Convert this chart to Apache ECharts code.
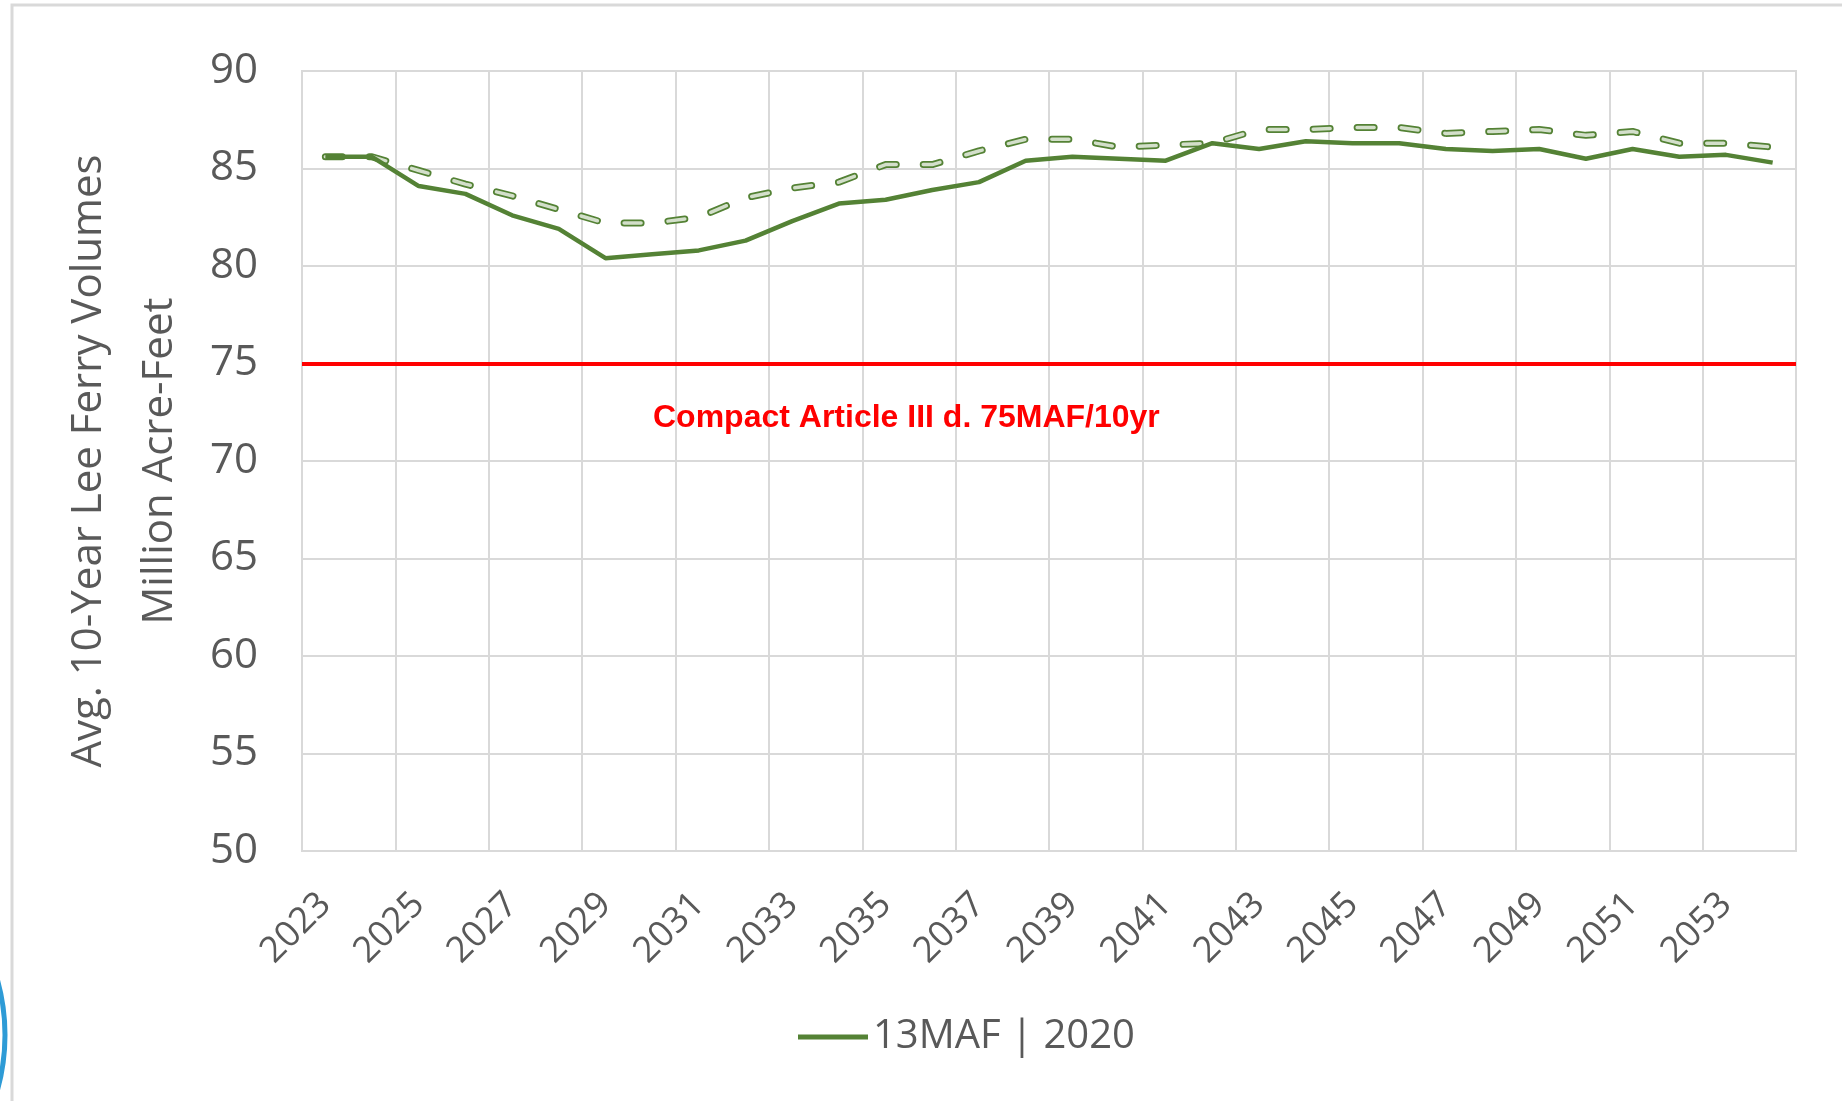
<!DOCTYPE html>
<html>
<head>
<meta charset="utf-8">
<script src="https://cdn.jsdelivr.net/npm/echarts@6/dist/echarts.min.js"></script>
<style>
  html, body { margin: 0; padding: 0; background: #fff; }
  #main { width: 1842px; height: 1101px; }
</style>
</head>
<body>
<div id="main"></div>
<script>
  // categories
  const years = ['2023', '2024', '2025', '2026', '2027', '2028', '2029', '2030',
    '2031', '2032', '2033', '2034', '2035', '2036', '2037', '2038',
    '2039', '2040', '2041', '2042', '2043', '2044', '2045', '2046',
    '2047', '2048', '2049', '2050', '2051', '2052', '2053', '2054']
  // 13MAF | 2020 (solid)
  const solid = [85.6, 85.6, 84.1, 83.7, 82.6, 81.9, 80.4, 80.6,
    80.8, 81.3, 82.3, 83.2, 83.4, 83.9, 84.3, 85.4,
    85.6, 85.5, 85.4, 86.3, 86.0, 86.4, 86.3, 86.3,
    86.0, 85.9, 86.0, 85.5, 86.0, 85.6, 85.7, 85.3]
  // second scenario (dashed, not in legend)
  const dashed = [85.6, 85.6, 84.9, 84.2, 83.6, 82.9, 82.2, 82.2,
    82.5, 83.5, 84.0, 84.3, 85.2, 85.2, 85.9, 86.5,
    86.5, 86.1, 86.2, 86.3, 87.0, 87.0, 87.1, 87.1,
    86.8, 86.9, 87.0, 86.7, 86.9, 86.3, 86.3, 86.1]
  const compactLimit = 75
  const compactText = 'Compact Article III d. 75MAF/10yr'

  let green = '#548235'
  let grey = '#595959'
  let gridGrey = '#d9d9d9'
  let font = '"Open Sans", sans-serif'

  let chart = echarts.init(document.getElementById('main'))
  chart.setOption({
    backgroundColor: '#fff',
    animation: false,
    grid: {
      left: 302,
      right: 46,
      top: 71,
      bottom: 250,
      show: true,
      borderColor: gridGrey,
      borderWidth: 2
    },
    legend: {
      data: [{name: '13MAF | 2020', icon: 'rect'}],
      left: 793,
      top: 1012,
      itemWidth: 70,
      itemHeight: 5,
      itemGap: 7,
      textStyle: {color: grey, fontSize: 40, fontFamily: font}
    },
    xAxis: {
      type: 'category',
      data: years,
      boundaryGap: true,
      axisLine: {lineStyle: {color: gridGrey, width: 2}},
      axisTick: {show: false},
      axisLabel: {
        interval: 1,
        rotate: 45,
        margin: 48,
        color: grey,
        fontSize: 36,
        fontFamily: font
      },
      splitLine: {
        show: true,
        interval: 1,
        lineStyle: {color: gridGrey, width: 2}
      }
    },
    yAxis: {
      type: 'value',
      min: 50,
      max: 90,
      interval: 5,
      name: 'Avg. 10-Year Lee Ferry Volumes\nMillion Acre-Feet',
      nameLocation: 'middle',
      nameRotate: 90,
      nameGap: 106,
      nameTextStyle: {
        color: grey,
        fontSize: 42,
        fontFamily: font,
        lineHeight: 71
      },
      axisLine: {show: false},
      axisTick: {show: false},
      axisLabel: {
        margin: 44,
        padding: [6, 0, 0, 0],
        color: grey,
        fontSize: 42,
        fontFamily: font
      },
      splitLine: {lineStyle: {color: gridGrey, width: 2}}
    },
    series: [
      {
        name: 'dashOuter',
        type: 'line',
        data: dashed,
        symbol: 'none',
        z: 2,
        lineStyle: {color: green, width: 7, type: [17, 27], cap: 'round'}
      },
      {
        name: 'dashInner',
        type: 'line',
        data: dashed,
        symbol: 'none',
        z: 3,
        lineStyle: {color: '#d3dfca', width: 3.5, type: [17, 27], cap: 'round'}
      },
      {
        name: '13MAF | 2020',
        type: 'line',
        data: solid,
        symbol: 'none',
        z: 4,
        color: green,
        lineStyle: {color: green, width: 4.5},
        markLine: {
          silent: true,
          symbol: 'none',
          label: {show: false},
          lineStyle: {color: '#ff0000', width: 4, type: 'solid'},
          data: [{yAxis: compactLimit}]
        }
      }
    ],
    graphic: [
      {
        type: 'rect',
        shape: {x: 12, y: 5, width: 1900, height: 1200},
        style: {fill: 'none', stroke: gridGrey, lineWidth: 3},
        silent: true,
        z: -1
      },
      {
        type: 'circle',
        shape: {cx: -200, cy: 1035, r: 205},
        style: {fill: 'none', stroke: '#2e9bd6', lineWidth: 5},
        silent: true
      },
      {
        type: 'text',
        x: 653,
        y: 418,
        style: {
          text: compactText,
          fill: '#ff0000',
          font: 'bold 32px "Liberation Sans", Arial, sans-serif',
          textVerticalAlign: 'middle'
        },
        z: 10
      }
    ]
  })
</script>
</body>
</html>
